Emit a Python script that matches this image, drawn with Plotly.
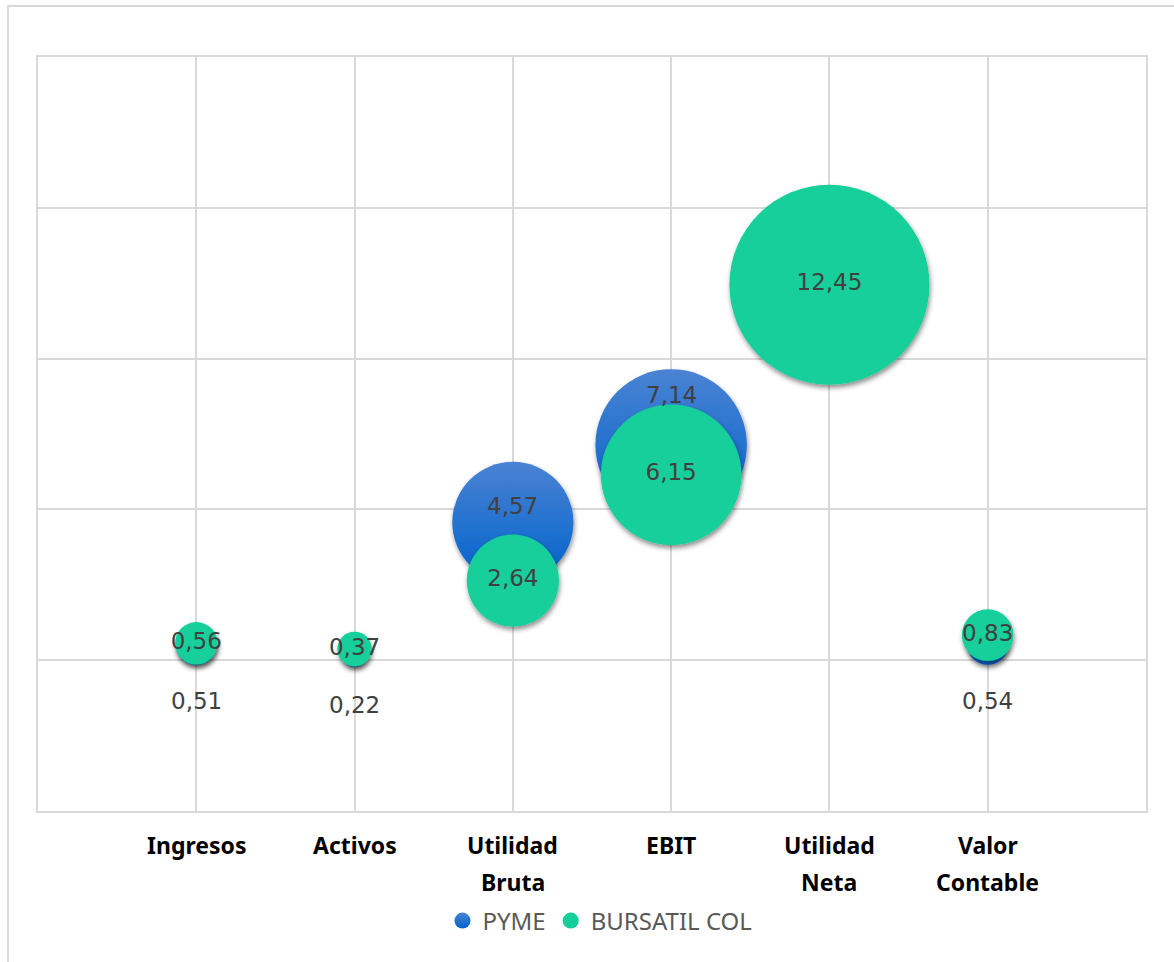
import plotly.graph_objects as go

# --- data -------------------------------------------------------------
categories = ["Ingresos", "Activos", "Utilidad<br>Bruta", "EBIT", "Utilidad<br>Neta", "Valor<br>Contable"]
pyme = [0.51, 0.22, 4.57, 7.14, None, 0.54]
bursatil = [0.56, 0.37, 2.64, 6.15, 12.45, 0.83]
series_names = ["PYME", "BURSATIL COL"]

# --- styling ----------------------------------------------------------
W, H = 1174, 962
M_L, M_R, M_T, M_B = 38, 28, 57, 151
PLOT_W, PLOT_H = W - M_L - M_R, H - M_T - M_B
GRID = "#d9d9d9"
BLUE_TOP, BLUE_BOTTOM = "#4a83d3", "#0062cc"
GREEN = "#13cf9a"
LABEL_COLOR = "#404040"
VALUE_FONT = dict(family="DejaVu Sans", size=23, color=LABEL_COLOR)
MAX_BUBBLE_PX = 200
LEGEND_DOT_PX = 16
# vertical pixel offsets of the PYME value labels from their bubble centres
pyme_label_shift = [-56, -51, 16, 50, 0, -57]

all_vals = [v for v in pyme + bursatil if v is not None]
sizeref = 2.0 * max(all_vals) / MAX_BUBBLE_PX ** 2
xs = list(range(1, len(categories) + 1))


def fmt(v):
    return f"{v:.2f}".replace(".", ",")


blue_marker = dict(color=BLUE_TOP, opacity=1, line=dict(width=0),
                   gradient=dict(type="vertical", color=BLUE_BOTTOM))
green_marker = dict(color=GREEN, opacity=1, line=dict(width=0))

fig = go.Figure()

fig.add_trace(go.Scatter(
    x=xs, y=pyme, name=series_names[0], mode="markers", showlegend=False,
    marker=dict(size=[v if v is not None else 0 for v in pyme], sizemode="area", sizeref=sizeref,
                **blue_marker),
    hoverinfo="skip",
))

fig.add_trace(go.Scatter(
    x=xs, y=bursatil, name=series_names[1], mode="markers+text", showlegend=False,
    text=[fmt(v) for v in bursatil], textposition="middle center", textfont=VALUE_FONT,
    marker=dict(size=bursatil, sizemode="area", sizeref=sizeref, **green_marker),
    hoverinfo="skip",
))

# legend entries with a fixed dot size
for name, mk in zip(series_names, [blue_marker, green_marker]):
    fig.add_trace(go.Scatter(x=[None], y=[None], name=name, mode="markers",
                             marker=dict(size=LEGEND_DOT_PX, **mk), hoverinfo="skip"))

annotations = []
for x, v, dy in zip(xs, pyme, pyme_label_shift):
    if v is None:
        continue
    annotations.append(dict(x=x, y=v, xref="x", yref="y", text=fmt(v), showarrow=False,
                            yshift=dy, font=VALUE_FONT))

# category labels below the plot, one annotation per text line
LINE_OFFSETS = [-34, -71]
for x, cat in zip(xs, categories):
    for i, line in enumerate(cat.split("<br>")):
        annotations.append(dict(x=x, y=0, xref="x", yref="paper", text=f"<b>{line}</b>",
                                showarrow=False, yanchor="middle", yshift=LINE_OFFSETS[i],
                                font=dict(family="Noto Sans", size=23, color="#000000")))


def px_x(p):
    return (p - M_L) / PLOT_W


def px_y(p):
    return (H - M_B - p) / PLOT_H


shapes = [dict(type="rect", xref="paper", yref="paper",
               x0=px_x(8), x1=px_x(W + 50), y0=px_y(H + 50), y1=px_y(6),
               line=dict(color=GRID, width=2), layer="below")]

fig.update_layout(
    width=W, height=H,
    margin=dict(l=M_L, r=M_R, t=M_T, b=M_B, pad=0),
    paper_bgcolor="white", plot_bgcolor="white",
    showlegend=True,
    legend=dict(orientation="h", x=px_x(600), y=px_y(921), xanchor="center", yanchor="middle",
                font=dict(family="Noto Sans", size=24, color="#595959"),
                itemsizing="trace", traceorder="normal", itemclick=False, tracegroupgap=0,
                itemwidth=30),
    xaxis=dict(range=[0, len(categories) + 1], tickvals=xs, showticklabels=False,
               showgrid=True, gridcolor=GRID, gridwidth=2, zeroline=False,
               showline=True, linecolor=GRID, linewidth=2, mirror=True, fixedrange=True),
    yaxis=dict(range=[-5, 20], dtick=5, tick0=0, showticklabels=False,
               showgrid=True, gridcolor=GRID, gridwidth=2, zeroline=True, zerolinecolor=GRID,
               zerolinewidth=2, showline=True, linecolor=GRID, linewidth=2, mirror=True,
               fixedrange=True),
    annotations=annotations, shapes=shapes,
)

# soft drop shadow under the bubbles
shadow_js = """
var gd = document.getElementById('{plot_id}');
function addShadow() {
  var svg = gd.querySelector('svg.main-svg');
  if (!svg) return;
  var ns = 'http://www.w3.org/2000/svg';
  if (!document.getElementById('bubshadow')) {
    var defs = svg.querySelector('defs') || svg.insertBefore(document.createElementNS(ns, 'defs'), svg.firstChild);
    var f = document.createElementNS(ns, 'filter');
    f.setAttribute('id', 'bubshadow');
    f.setAttribute('x', '-50%'); f.setAttribute('y', '-50%');
    f.setAttribute('width', '200%'); f.setAttribute('height', '200%');
    var ds = document.createElementNS(ns, 'feDropShadow');
    ds.setAttribute('dx', '1'); ds.setAttribute('dy', '3');
    ds.setAttribute('stdDeviation', '2.5');
    ds.setAttribute('flood-color', '#000000'); ds.setAttribute('flood-opacity', '0.45');
    f.appendChild(ds); defs.appendChild(f);
  }
  gd.querySelectorAll('.cartesianlayer .scatterlayer .points path').forEach(function (p) {
    p.setAttribute('filter', 'url(#bubshadow)');
  });
}
addShadow();
gd.on('plotly_afterplot', addShadow);
"""

fig.write_html("out.html", config={"displayModeBar": False, "staticPlot": True}, post_script=shadow_js)
